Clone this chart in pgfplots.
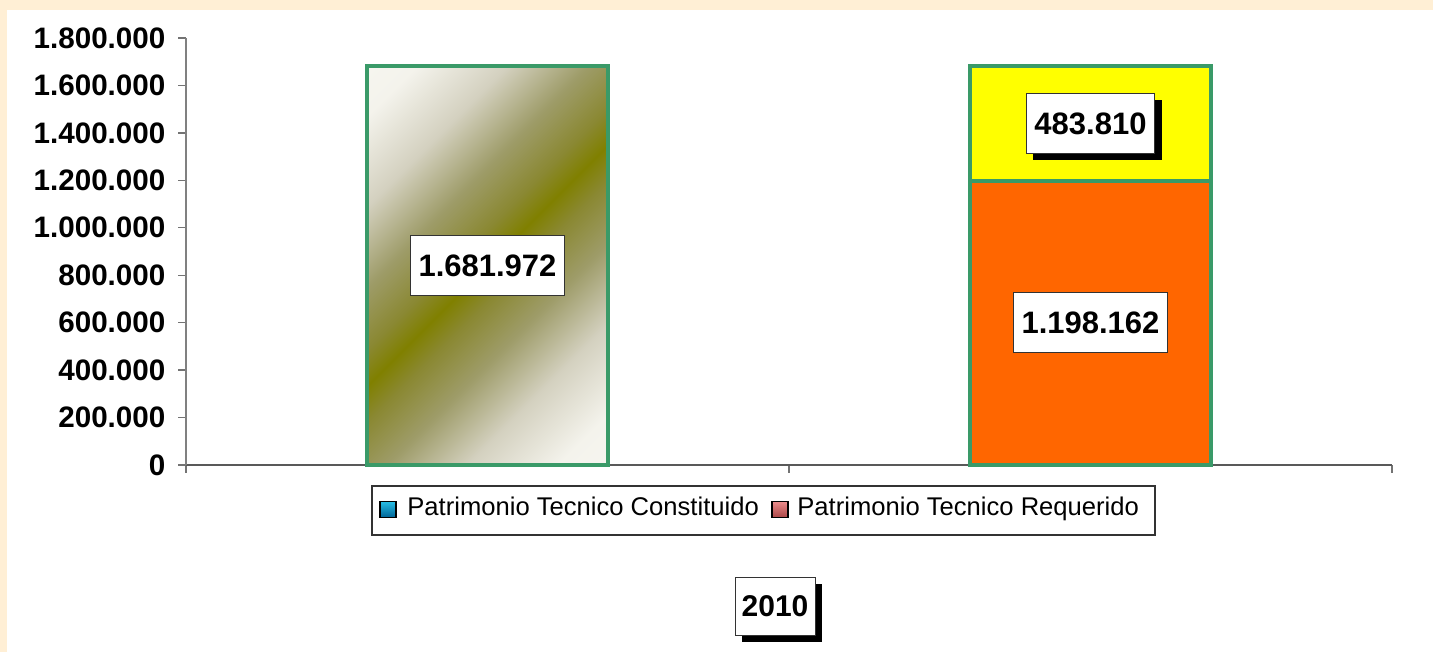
\documentclass[border=0pt]{standalone}
\usepackage{fontspec}
\setmainfont{Liberation Sans}
\usepackage{pgfplots}
\pgfplotsset{compat=1.18}
\usetikzlibrary{shadows}
\definecolor{cream}{RGB}{255,239,213}
\definecolor{bedge}{RGB}{58,154,104}
\definecolor{olivec}{RGB}{128,128,0}
\definecolor{ol1}{RGB}{138,136,50}
\definecolor{ol2}{RGB}{158,156,105}
\definecolor{ol3}{RGB}{212,209,192}
\definecolor{ol4}{RGB}{244,243,236}
\definecolor{ol5}{RGB}{251,251,248}
\definecolor{orangec}{RGB}{255,102,0}
\definecolor{yellowc}{RGB}{255,255,0}
\definecolor{legblueA}{RGB}{40,190,230}
\definecolor{legblueB}{RGB}{0,100,150}
\definecolor{legredA}{RGB}{235,140,140}
\definecolor{legredB}{RGB}{170,70,70}
\pgfdeclareverticalshading{olivediag}{100bp}{color(0bp)=(ol5); color(20bp)=(ol4); color(30bp)=(ol3); color(39bp)=(ol2); color(46bp)=(ol1); color(50bp)=(olivec); color(54bp)=(ol1); color(61bp)=(ol2); color(70bp)=(ol3); color(80bp)=(ol4); color(100bp)=(ol5)}
\tikzset{lbl/.style={draw=black!80, thin, fill=white, font=\bfseries\fontsize{15.5}{15.5}\selectfont,
  minimum height=30pt, inner xsep=4pt},
  shad/.style={drop shadow={shadow xshift=3.5pt, shadow yshift=-3.5pt, fill=black, opacity=1}}}
\begin{document}
\begin{tikzpicture}
\useasboundingbox (0,0) rectangle (716.5pt,326pt);
\fill[cream] (0,0) rectangle (716.5pt,326pt);
\fill[white] (3.5pt,0) rectangle (716.5pt,321pt);
\begin{axis}[
  at={(93pt,93.5pt)}, anchor=south west,
  scale only axis, width=603pt, height=213.5pt,
  xmin=-0.5, xmax=1.5, ymin=0, ymax=1800000,
  ybar stacked, bar width=0.4,
  axis x line=bottom, axis y line=left,
  x axis line style={-, draw=black!65, line width=0.8pt},
  y axis line style={-, draw=black!50, line width=0.8pt},
  xtick={-0.5,0.5,1.5}, xticklabels={},
  ytick={0,200000,...,1800000},
  tick align=outside, major tick length=4pt,
  tick style={draw=black!55, line width=0.7pt},
  scaled y ticks=false,
  yticklabel style={font=\bfseries\fontsize{14.8}{14.8}\selectfont, xshift=-2.8pt,
    /pgf/number format/.cd, fixed, precision=0, 1000 sep={.}, assume math mode=true},
  clip=false,
]
\addplot[fill=orangec, draw=bedge, line width=2.2pt] coordinates {(0,0) (1,1198162)};
\addplot[fill=yellowc, draw=bedge, line width=2.2pt] coordinates {(0,0) (1,483810)};
\addplot[draw=bedge, line width=2.2pt, shading=olivediag, shading angle=45] coordinates {(0,1681972)};
\coordinate (L1) at (axis cs:0,840986);
\coordinate (L2) at (axis cs:1,599081);
\coordinate (L3) at (axis cs:1,1440067);
\end{axis}
\node[lbl] at (L1) {1.681.972};
\node[lbl] at (L2) {1.198.162};
\node[lbl, shad] at (L3) {483.810};
% legend
\draw[draw=black!80, fill=white, line width=0.6pt] (186pt,58.5pt) rectangle (577.5pt,83pt);
\draw[draw=black, line width=0.8pt, top color=legblueA, bottom color=legblueB] (190pt,67.3pt) rectangle (198pt,75.3pt);
\node[anchor=base west, inner sep=0pt, font=\fontsize{12.8}{12.8}\selectfont] at (203.5pt,68pt) {Patrimonio Tecnico Constituido};
\draw[draw=black, line width=0.8pt, top color=legredA, bottom color=legredB] (386pt,67.3pt) rectangle (394pt,75.3pt);
\node[anchor=base west, inner sep=0pt, font=\fontsize{12.8}{12.8}\selectfont] at (398.5pt,68pt) {Patrimonio Tecnico Requerido};
\node[lbl, shad, font=\bfseries\fontsize{15}{15}\selectfont, minimum width=40pt, minimum height=29pt, inner xsep=2pt]
  at (387.5pt,23pt) {2010};
\end{tikzpicture}
\end{document}
